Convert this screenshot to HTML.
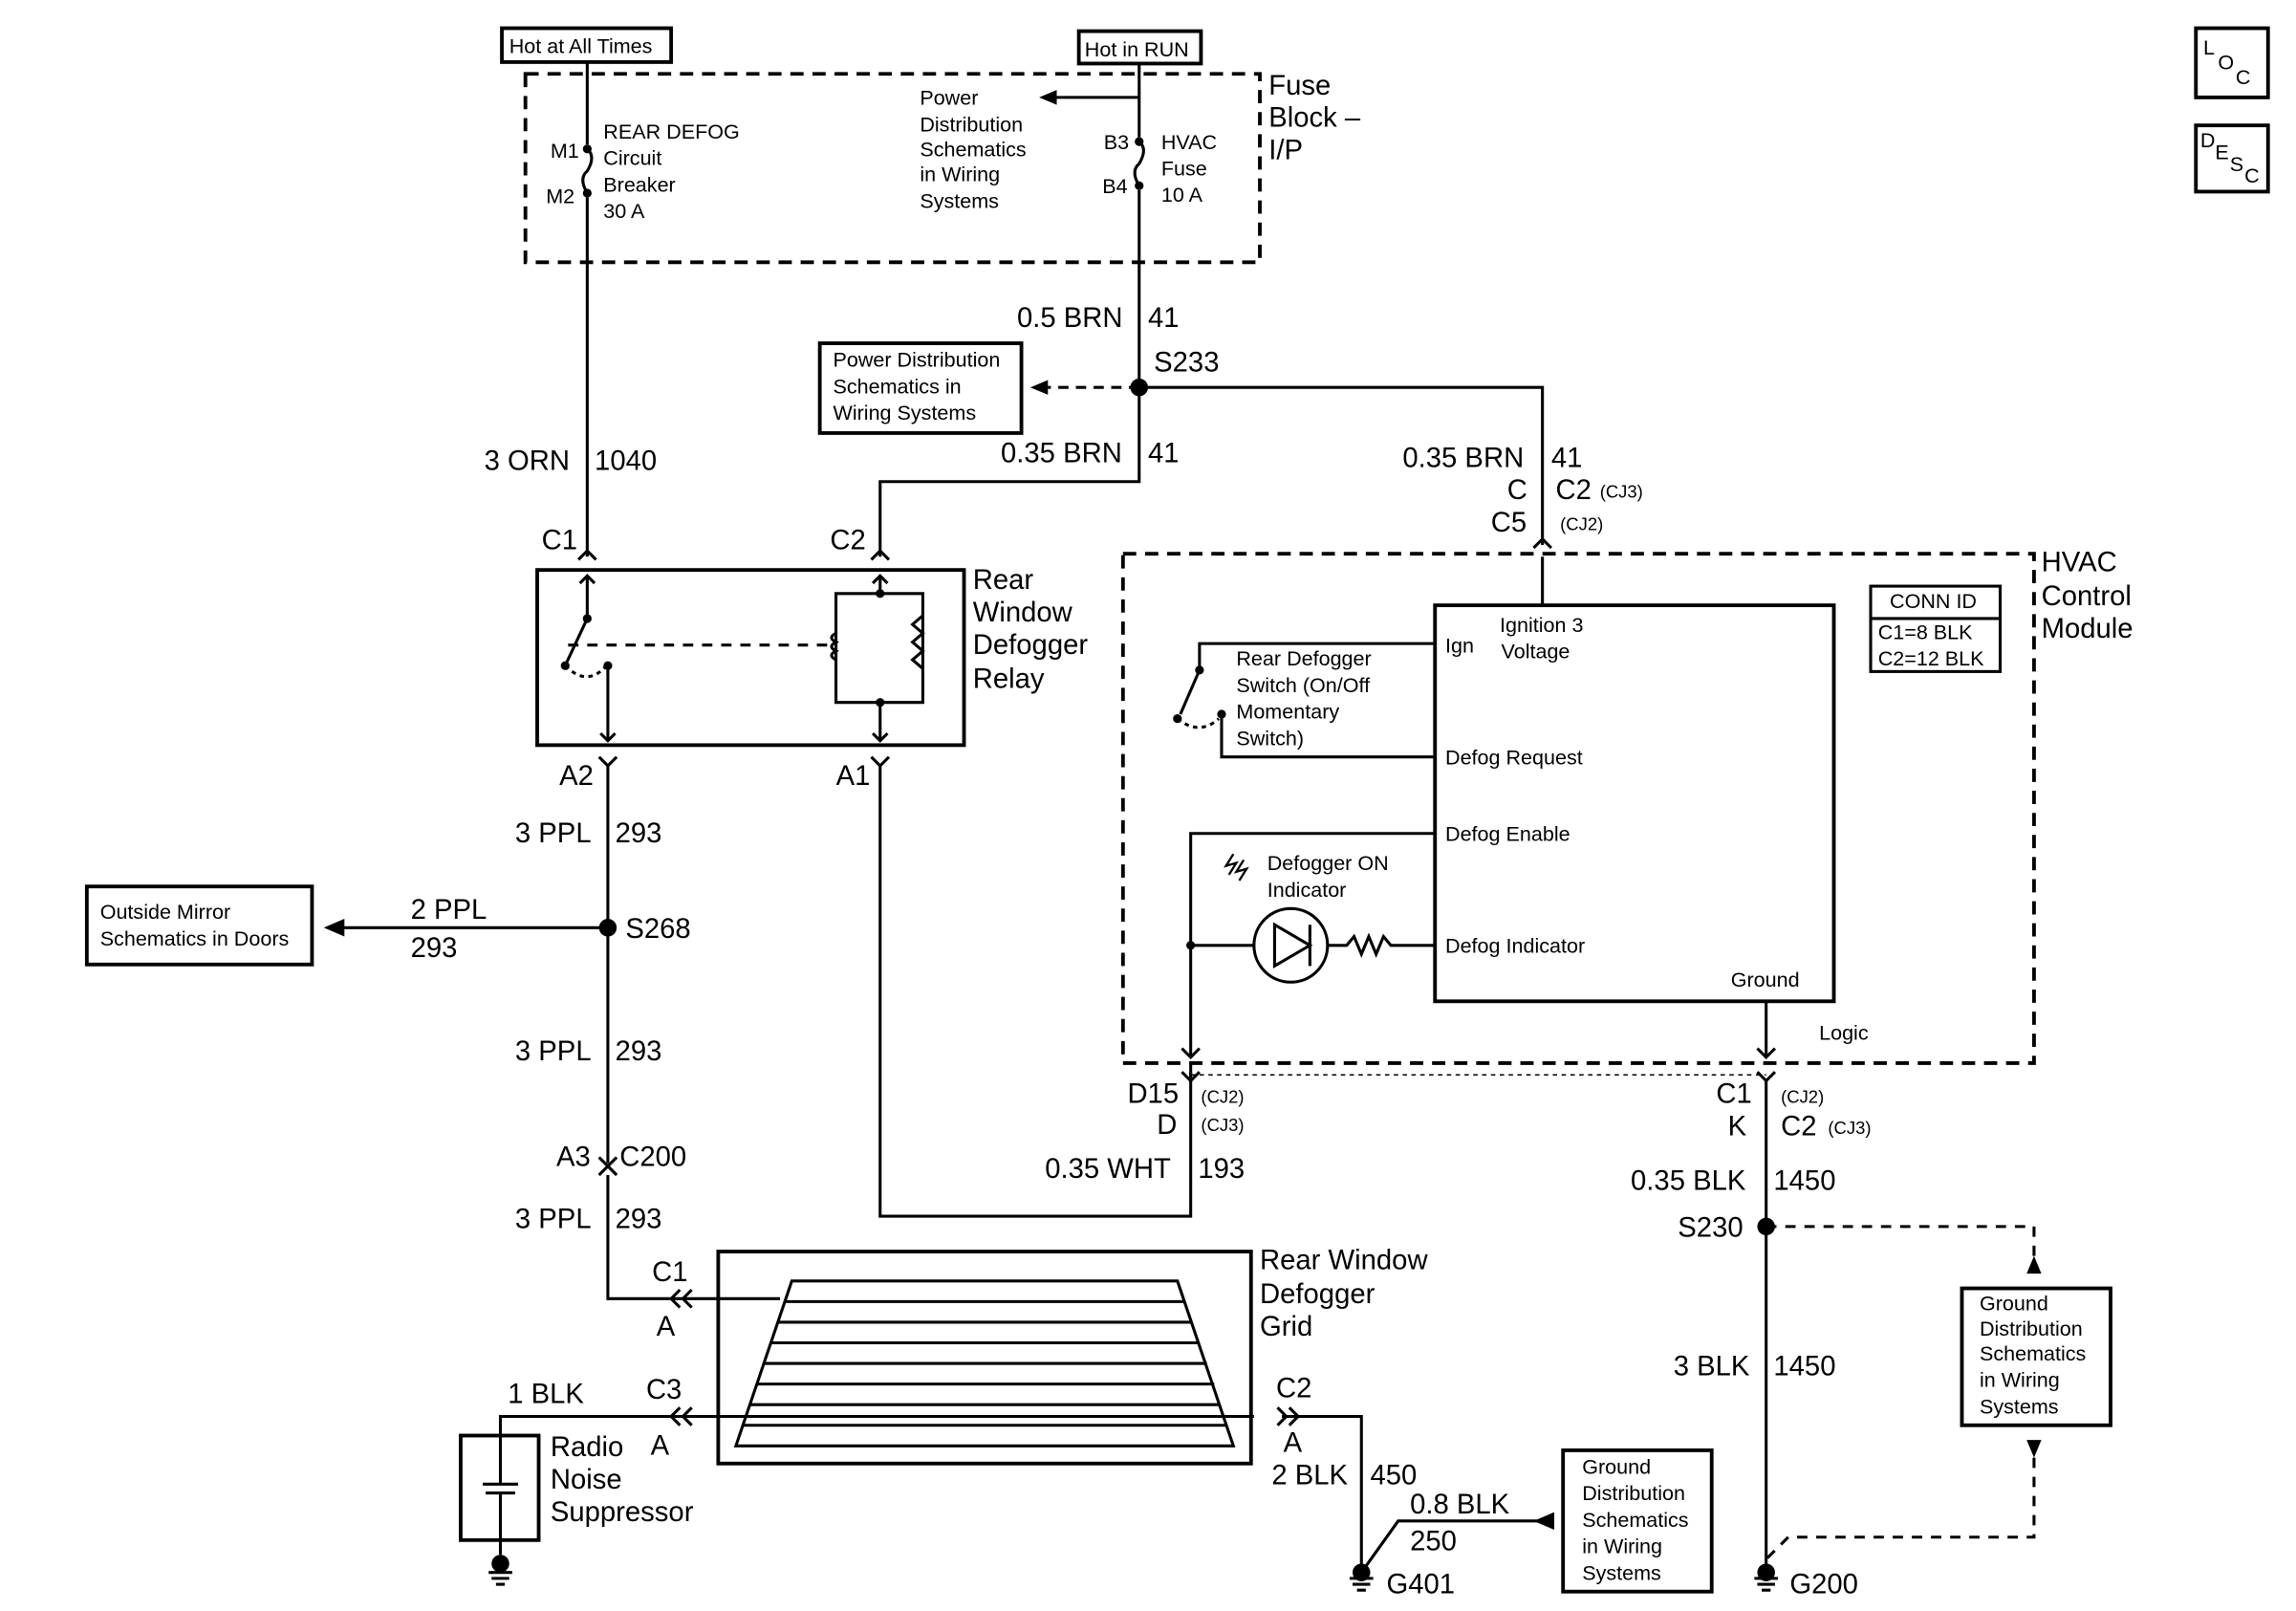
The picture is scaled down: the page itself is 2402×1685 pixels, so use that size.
<!DOCTYPE html>
<html><head><meta charset="utf-8"><style>
html,body{margin:0;padding:0;background:#fff}
svg{display:block}
text{font-family:"Liberation Sans",sans-serif;fill:#000}
.L{font-size:19px}
.S{font-size:14px}
.X{font-size:12px}
</style></head><body>
<svg width="2402" height="1685" viewBox="0 0 1560 1094" xmlns="http://www.w3.org/2000/svg">
<g fill="none" stroke="#000" stroke-width="2">
<!-- top boxes -->
<rect x="341" y="19" width="115" height="23" stroke-width="2.5"/>
<rect x="733" y="21" width="83" height="22" stroke-width="2.5"/>
<rect x="357" y="50" width="499" height="128" stroke-dasharray="9,6" stroke-width="2.5"/>
<!-- left feed -->
<path d="M399 42V98M399 134V378"/>
<path d="M399 101q6 5 0 15q-6 5 0 15"/>
<!-- right feed -->
<path d="M774 43V93M774 129V327H598V378"/>
<path d="M774 96q6 5 0 15q-6 5 0 15"/>
<path d="M774 66H712"/>
<path d="M774 263H1048V370"/>
<path d="M774 263H712" stroke-dasharray="7,5"/>
<rect x="557" y="233" width="137" height="61" stroke-width="2.5"/>
<!-- connectors top of relay -->
<path d="M393 380l6-6 6 6M592 380l6-6 6 6M1042 372l6-6 6 6"/>
<!-- relay -->
<rect x="365" y="387" width="290" height="119" stroke-width="2.5"/>
<path d="M399 391V420l-15 32"/>
<path d="M394 396l5-5 5 5"/>
<path d="M384 452q15 15 28 0" stroke-dasharray="3,3"/>
<path d="M413 452V503M408 498l5 5 5-5"/>
<path d="M386 438H565" stroke-dasharray="7,6"/>
<path d="M598 391V403M593 396l5-5 5 5M568 403H627V477H568ZM598 477V503M593 498l5 5 5-5"/>
<path d="M568 430q-6 3 0 6q-6 3 0 6q-6 3 0 6" />
<path d="M627 418l-7 6 7 6-7 6 7 6-7 6 7 6"/>
<!-- A2 / A1 -->
<path d="M407 514l6 6 6-6M592 514l6 6 6-6"/>
<path d="M413 520V790M407 786l6 6 6-6M407 798l6-6 6 6M413 798V882H455"/>
<path d="M598 520V826H809V722"/>
<path d="M413 630H230"/>
<rect x="59" y="602" width="153" height="53" stroke-width="2.5"/>
<!-- HVAC -->
<rect x="763" y="376" width="619" height="346" stroke-dasharray="9,6" stroke-width="2.5"/>
<rect x="975" y="411" width="271" height="269" stroke-width="2.5"/>
<rect x="1271" y="398" width="88" height="58" stroke-width="2"/>
<path d="M1271 420H1359"/>
<path d="M1048 378V411"/>
<path d="M975 437H815V455l-13 30M830 485V514H975"/>
<path d="M800 488q15 12 28 0" stroke-dasharray="3,3"/>
<path d="M975 566H809V718M803 712l6 6 6-6"/>
<path d="M809 642H852M902 642H915l5-6 5 12 5-12 5 12 5-12 5 6H975"/>
<circle cx="877" cy="642" r="25"/>
<path d="M866 628V656L890 642ZM890 628V656"/>
<path d="M838 580l-5 8 7-2-5 8M845 584l-5 8 7-2-5 8" stroke-width="1.5"/>
<path d="M1200 680V718M1194 712l6 6 6-6"/>
<path d="M809 728V735" />
<path d="M809 730H1200" stroke-dasharray="3,3" stroke-width="1"/>
<path d="M803 728l6 6 6-6M1194 728l6 6 6-6"/>
<path d="M1200 734V1068"/>
<path d="M1200 833H1382V860" stroke-dasharray="7,6"/>
<rect x="1333" y="875" width="101" height="93" stroke-width="2.5"/>
<path d="M1382 990V1044H1215l-15 15" stroke-dasharray="7,6"/>
<!-- grid -->
<rect x="488" y="850" width="362" height="144" stroke-width="2.5"/>
<path d="M538 870H800L838 982H500Z"/>
<path d="M534 884H805M529 898H810M524 912H815M519 926H820M514 940H825M509 954H829M505 968H833"/>
<path d="M455 882H530"/>
<path d="M462 876l-6 6 6 6M470 876l-6 6 6 6"/>
<path d="M340 975V962H852M871 962H925V1066"/>
<path d="M462 956l-6 6 6 6M470 956l-6 6 6 6M868 956l6 6-6 6M876 956l6 6-6 6"/>
<path d="M925 1068l25-35H1045"/>
<rect x="1062" y="985" width="101" height="96" stroke-width="2.5"/>
<rect x="313" y="975" width="53" height="71" stroke-width="2.5"/>
<path d="M328 1008H352M330 1014H350M340 975V1008M340 1014V1056"/>
<!-- grounds -->
<path d="M332 1068H348M334 1072H346M337 1076H343M917 1072H933M919 1076H931M922 1080H928M1192 1072H1208M1194 1076H1206M1197 1080H1203"/>
<!-- LOC DESC -->
<rect x="1492" y="19" width="49" height="47" stroke-width="2.5"/>
<rect x="1492" y="85" width="49" height="45" stroke-width="2.5"/>
</g>
<g fill="#000">
<path d="M706 66l12-5v10z"/>
<path d="M700 263l12-5v10z"/>
<path d="M220 630l14-6v12z"/>
<path d="M1382 853l-5 12h10z"/>
<path d="M1382 990l-5-12h10z"/>
<path d="M1042 1033l14-6v12z"/>
<circle cx="774" cy="263" r="6"/>
<circle cx="413" cy="630" r="6"/>
<circle cx="1200" cy="833" r="6"/>
<circle cx="399" cy="101" r="3"/><circle cx="399" cy="131" r="3"/>
<circle cx="774" cy="96" r="3"/><circle cx="774" cy="126" r="3"/>
<circle cx="399" cy="420" r="3"/><circle cx="384" cy="452" r="3"/><circle cx="413" cy="452" r="3"/>
<circle cx="598" cy="403" r="3"/><circle cx="598" cy="477" r="3"/>
<circle cx="815" cy="455" r="3"/><circle cx="800" cy="488" r="3"/><circle cx="830" cy="485" r="3"/>
<circle cx="809" cy="642" r="3"/>
<circle cx="340" cy="1062" r="6"/><circle cx="925" cy="1068" r="6"/><circle cx="1200" cy="1068" r="6"/>
</g>
<text class="S" x="346" y="36">Hot at All Times</text>
<text class="S" x="737" y="38">Hot in RUN</text>
<text class="L" x="862" y="64">Fuse</text>
<text class="L" x="862" y="86">Block –</text>
<text class="L" x="862" y="108">I/P</text>
<text class="S" x="374" y="107">M1</text><text class="S" x="371" y="138">M2</text>
<text class="S" x="410" y="94">REAR DEFOG</text><text class="S" x="410" y="112">Circuit</text><text class="S" x="410" y="130">Breaker</text><text class="S" x="410" y="148">30 A</text>
<text class="S" x="625" y="71">Power</text><text class="S" x="625" y="89">Distribution</text><text class="S" x="625" y="106">Schematics</text><text class="S" x="625" y="123">in Wiring</text><text class="S" x="625" y="141">Systems</text>
<text class="S" x="750" y="101">B3</text><text class="S" x="749" y="131">B4</text>
<text class="S" x="789" y="101">HVAC</text><text class="S" x="789" y="119">Fuse</text><text class="S" x="789" y="137">10 A</text>
<text class="L" x="691" y="222">0.5 BRN</text><text class="L" x="780" y="222">41</text>
<text class="L" x="784" y="252">S233</text>
<text class="S" x="566" y="249">Power Distribution</text><text class="S" x="566" y="267">Schematics in</text><text class="S" x="566" y="285">Wiring Systems</text>
<text class="L" x="329" y="319">3 ORN</text><text class="L" x="404" y="319">1040</text>
<text class="L" x="680" y="314">0.35 BRN</text><text class="L" x="780" y="314">41</text>
<text class="L" x="953" y="317">0.35 BRN</text><text class="L" x="1054" y="317">41</text>
<text class="L" x="1024" y="339">C</text><text class="L" x="1057" y="339">C2</text><text class="X" x="1087" y="338">(CJ3)</text>
<text class="L" x="1013" y="361">C5</text><text class="X" x="1060" y="360">(CJ2)</text>
<text class="L" x="368" y="373">C1</text><text class="L" x="564" y="373">C2</text>
<text class="L" x="661" y="400">Rear</text><text class="L" x="661" y="422">Window</text><text class="L" x="661" y="444">Defogger</text><text class="L" x="661" y="467">Relay</text>
<text class="L" x="1387" y="388">HVAC</text><text class="L" x="1387" y="411">Control</text><text class="L" x="1387" y="433">Module</text>
<text class="S" x="1284" y="413">CONN ID</text><text class="S" x="1276" y="434">C1=8 BLK</text><text class="S" x="1276" y="452">C2=12 BLK</text>
<text class="S" x="1019" y="429">Ignition 3</text><text class="S" x="1020" y="447">Voltage</text><text class="S" x="982" y="443">Ign</text>
<text class="S" x="840" y="452">Rear Defogger</text><text class="S" x="840" y="470">Switch (On/Off</text><text class="S" x="840" y="488">Momentary</text><text class="S" x="840" y="506">Switch)</text>
<text class="S" x="982" y="519">Defog Request</text><text class="S" x="982" y="571">Defog Enable</text>
<text class="S" x="861" y="591">Defogger ON</text><text class="S" x="861" y="609">Indicator</text>
<text class="S" x="982" y="647">Defog Indicator</text>
<text class="S" x="1176" y="670">Ground</text><text class="S" x="1236" y="706">Logic</text>
<text class="L" x="380" y="533">A2</text><text class="L" x="568" y="533">A1</text>
<text class="L" x="350" y="572">3 PPL</text><text class="L" x="418" y="572">293</text>
<text class="S" x="68" y="624">Outside Mirror</text><text class="S" x="68" y="642">Schematics in Doors</text>
<text class="L" x="279" y="624">2 PPL</text><text class="L" x="279" y="650">293</text>
<text class="L" x="425" y="637">S268</text>
<text class="L" x="350" y="720">3 PPL</text><text class="L" x="418" y="720">293</text>
<text class="L" x="766" y="749">D15</text><text class="X" x="816" y="749">(CJ2)</text>
<text class="L" x="786" y="770">D</text><text class="X" x="816" y="768">(CJ3)</text>
<text class="L" x="1166" y="749">C1</text><text class="X" x="1210" y="749">(CJ2)</text>
<text class="L" x="1174" y="771">K</text><text class="L" x="1210" y="771">C2</text><text class="X" x="1242" y="770">(CJ3)</text>
<text class="L" x="378" y="792">A3</text><text class="L" x="421" y="792">C200</text>
<text class="L" x="710" y="800">0.35 WHT</text><text class="L" x="814" y="800">193</text>
<text class="L" x="1108" y="808">0.35 BLK</text><text class="L" x="1205" y="808">1450</text>
<text class="L" x="1140" y="840">S230</text>
<text class="L" x="350" y="834">3 PPL</text><text class="L" x="418" y="834">293</text>
<text class="L" x="443" y="870">C1</text><text class="L" x="446" y="907">A</text>
<text class="L" x="856" y="862">Rear Window</text><text class="L" x="856" y="885">Defogger</text><text class="L" x="856" y="907">Grid</text>
<text class="S" x="1345" y="890">Ground</text><text class="S" x="1345" y="907">Distribution</text><text class="S" x="1345" y="924">Schematics</text><text class="S" x="1345" y="942">in Wiring</text><text class="S" x="1345" y="960">Systems</text>
<text class="L" x="1137" y="934">3 BLK</text><text class="L" x="1205" y="934">1450</text>
<text class="L" x="345" y="953">1 BLK</text><text class="L" x="439" y="950">C3</text><text class="L" x="442" y="988">A</text>
<text class="L" x="867" y="949">C2</text><text class="L" x="872" y="986">A</text>
<text class="L" x="374" y="989">Radio</text><text class="L" x="374" y="1011">Noise</text><text class="L" x="374" y="1033">Suppressor</text>
<text class="L" x="864" y="1008">2 BLK</text><text class="L" x="931" y="1008">450</text>
<text class="L" x="958" y="1028">0.8 BLK</text><text class="L" x="958" y="1053">250</text>
<text class="S" x="1075" y="1001">Ground</text><text class="S" x="1075" y="1019">Distribution</text><text class="S" x="1075" y="1037">Schematics</text><text class="S" x="1075" y="1055">in Wiring</text><text class="S" x="1075" y="1073">Systems</text>
<text class="L" x="942" y="1082">G401</text><text class="L" x="1216" y="1082">G200</text>
<text class="S" x="1497" y="37">L</text><text class="S" x="1507" y="47">O</text><text class="S" x="1519" y="57">C</text>
<text class="S" x="1495" y="100">D</text><text class="S" x="1505" y="108">E</text><text class="S" x="1515" y="116">S</text><text class="S" x="1525" y="124">C</text>
</svg>
</body></html>
